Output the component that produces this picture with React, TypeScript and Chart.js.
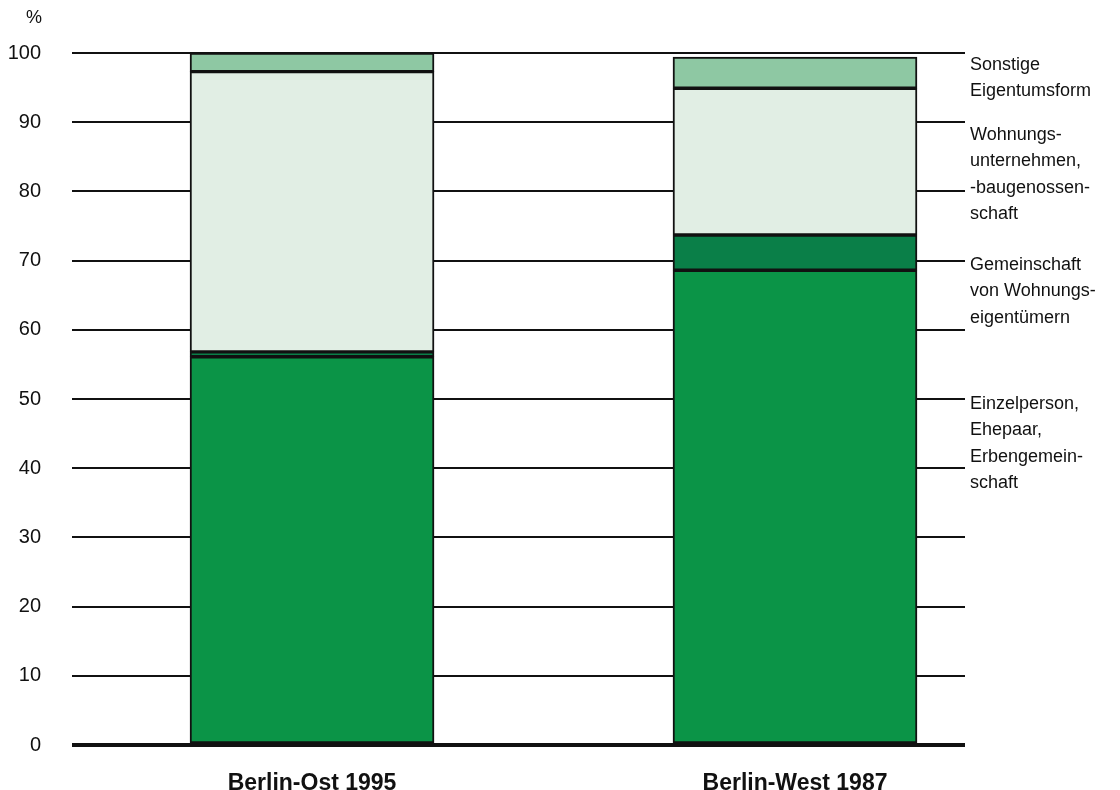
import React, { useEffect, useRef } from "react";
import { Chart, registerables } from "chart.js";

Chart.register(...registerables);

const categories = ["Berlin-Ost 1995", "Berlin-West 1987"];
const seriesNames = [
  "Einzelperson, Ehepaar, Erbengemeinschaft",
  "Gemeinschaft von Wohnungseigentümern",
  "Wohnungsunternehmen, -baugenossenschaft",
  "Sonstige Eigentumsform",
];
const einzelperson = [56.1, 68.6];
const gemeinschaft = [0.7, 5.1];
const wohnungsunternehmen = [40.5, 21.2];
const sonstige = [2.7, 4.5];
const seriesColors = ["#0b9447", "#0a7f48", "#e1eee4", "#8ec8a3"];
const yTicks = [0, 10, 20, 30, 40, 50, 60, 70, 80, 90, 100];

const rightLabels: { y: number; lines: string[] }[] = [
  { y: 98.3, lines: ["Sonstige", "Eigentumsform"] },
  { y: 88.2, lines: ["Wohnungs-", "unternehmen,", "-baugenossen-", "schaft"] },
  { y: 69.4, lines: ["Gemeinschaft", "von Wohnungs-", "eigentümern"] },
  { y: 49.3, lines: ["Einzelperson,", "Ehepaar,", "Erbengemein-", "schaft"] },
];

const FONT = "'Liberation Sans', Arial, Helvetica, sans-serif";

const annotationsPlugin = {
  id: "annotations",
  afterDraw(chart: any) {
    const ctx = chart.ctx;
    const y = chart.scales.y;
    ctx.save();
    ctx.fillStyle = "#111";
    ctx.font = `18px ${FONT}`;
    ctx.textAlign = "center";
    ctx.textBaseline = "middle";
    ctx.fillText("%", 34, 18);
    ctx.textAlign = "left";
    ctx.font = `18px ${FONT}`;
    rightLabels.forEach((lab) => {
      const y0 = y.getPixelForValue(lab.y);
      lab.lines.forEach((ln, i) => {
        ctx.fillText(ln, 970, y0 + i * 26.5);
      });
    });
    ctx.restore();
  },
};

export default function App() {
  const ref = useRef<HTMLCanvasElement>(null);
  useEffect(() => {
    document.body.style.margin = "0";
    const values = [einzelperson, gemeinschaft, wohnungsunternehmen, sonstige];
    const chart = new Chart(ref.current!, {
      type: "bar",
      data: {
        datasets: values.map((arr, si) => ({
          label: seriesNames[si],
          data: arr.map((v, i) => ({ x: i, y: v })),
          backgroundColor: seriesColors[si],
          borderColor: "#111",
          borderWidth: 2,
          borderSkipped: false,
          barThickness: 244,
        })),
      },
      options: {
        animation: false,
        responsive: false,
        maintainAspectRatio: false,
        layout: { padding: { left: 0, right: 155, top: 53, bottom: 0 } },
        plugins: { legend: { display: false }, tooltip: { enabled: false } },
        scales: {
          x: {
            type: "linear",
            stacked: true,
            offset: false,
            min: -0.497,
            max: 1.352,
            afterBuildTicks: (scale: any) => {
              scale.ticks = categories.map((_, i) => ({ value: i }));
            },
            afterFit: (scale: any) => {
              scale.height = 45;
            },
            grid: { display: false, offset: false },
            border: { display: false },
            ticks: {
              padding: 17,
              color: "#111",
              font: { family: FONT, size: 23, weight: "bold" },
              callback: (v: any) => categories[v] ?? "",
            },
          },
          y: {
            stacked: true,
            min: 0,
            max: 100,
            afterBuildTicks: (scale: any) => {
              scale.ticks = yTicks.map((v) => ({ value: v }));
            },
            afterFit: (scale: any) => {
              scale.width = 72;
            },
            border: { display: false },
            grid: {
              color: "#111",
              lineWidth: (c: any) => (c.tick && c.tick.value === 0 ? 4 : 2),
              drawTicks: false,
            },
            ticks: {
              padding: 31,
              color: "#111",
              font: { family: FONT, size: 20 },
            },
          },
        },
      },
      plugins: [annotationsPlugin],
    });
    return () => chart.destroy();
  }, []);
  return <canvas ref={ref} width={1120} height={790} style={{ display: "block" }} />;
}
